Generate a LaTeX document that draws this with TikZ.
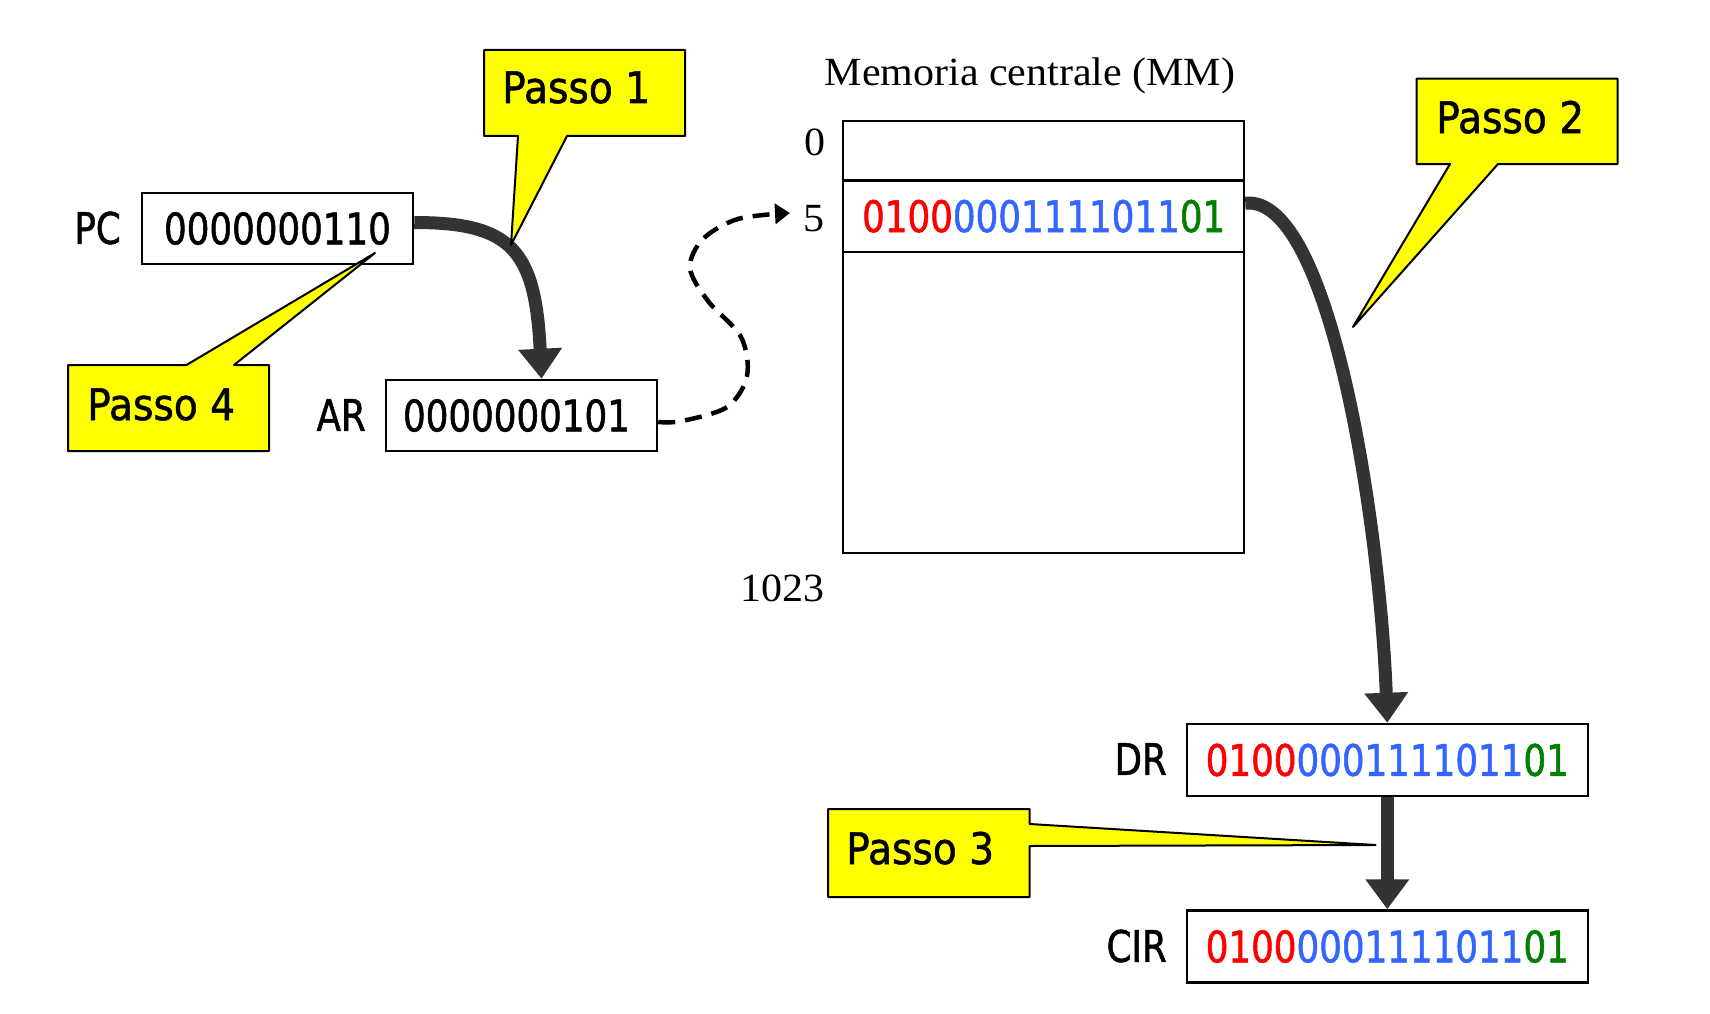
\documentclass[tikz,border=0pt]{standalone}
\usepackage{fontspec}
\usetikzlibrary{arrows.meta}
\newfontfamily\tahoma[FakeStretch=0.82,FakeBold=1.2]{DejaVu Sans}
\newfontfamily\tahomawide[FakeStretch=0.9,FakeBold=1.2]{DejaVu Sans}
\newfontfamily\timesf[FakeStretch=1.05]{Liberation Serif}
\definecolor{bitred}{RGB}{255,0,0}
\definecolor{bitblue}{RGB}{51,102,255}
\definecolor{bitgreen}{RGB}{0,128,0}
\definecolor{arrowgray}{RGB}{51,51,51}
\definecolor{calloutyellow}{RGB}{255,255,0}
\newcommand{\bitstring}{\textcolor{bitred}{0100}\textcolor{bitblue}{0001111011}\textcolor{bitgreen}{01}}
\newcommand{\sansbig}{\tahoma\fontsize{43.5}{50}\selectfont}
\newcommand{\sanscall}{\tahomawide\fontsize{43.5}{50}\selectfont}
\newcommand{\serifbig}{\timesf\fontsize{40}{46}\selectfont}
\begin{document}
\begin{tikzpicture}[x=1pt,y=-1pt,
  regbox/.style={draw, line width=2.5pt, inner sep=0pt, minimum width=271pt, minimum height=71pt, font=\sansbig},
  widebox/.style={regbox, minimum width=401pt, minimum height=72pt},
  cellbox/.style={draw, line width=2.2pt, inner sep=0pt, minimum width=401pt, font=\sansbig},
  reglabel/.style={inner sep=0pt, anchor=east, font=\sansbig},
  memlabel/.style={inner sep=0pt, anchor=base, font=\serifbig},
  calloutshape/.style={draw=black, fill=calloutyellow, line width=2pt, line join=round},
  callouttext/.style={inner sep=0pt, anchor=base west, font=\sanscall},
  thickarrow/.style={color=arrowgray, line width=13pt, -{Triangle[width=42pt,length=30pt]}},
  dasharrow/.style={color=black, line width=4.5pt, dash pattern=on 17pt off 10pt, -{Triangle[width=20pt,length=15pt]}}
]
\useasboundingbox (0,0) rectangle (1710,1014);
\fill[white] (0,0) rectangle (1710,1014);

% registers
\node[regbox] (PC) at (277.5,228.5) {0000000110};
\node[regbox] (AR) at (521.5,415.5) {\hspace*{-10pt}0000000101};
\node[widebox] (DR) at (1387.3,760) {\bitstring};
\node[widebox] (CIR) at (1387.3,946.5) {\bitstring};
\node[reglabel] (PClab) at (121,228) {PC};
\node[reglabel] (ARlab) at (366,415) {AR};
\node[reglabel] (DRlab) at (1167,759) {DR};
\node[reglabel] (CIRlab) at (1167,946) {CIR};

% memory
\node[memlabel] (title) at (1030,86) {Memoria centrale (MM)};
\node[cellbox, minimum height=59.4pt] (mem0) at (1043.7,150.7) {};
\node[cellbox, minimum height=71.6pt] (mem5) at (1043.7,216.2) {\bitstring};
\node[cellbox, minimum height=301pt] (memrest) at (1043.7,402.5) {};
\node[memlabel] (lab0) at (815,156) {0};
\node[memlabel] (lab5) at (814,231) {5};
\node[memlabel] (lab1023) at (782,601) {1023};
\coordinate (dtip) at (790,213);

% connectors
\draw[thickarrow] ([yshift=6pt]PC.east) .. controls +(97,0) and +(-6,-129) .. ([xshift=20pt]AR.north);
\draw[thickarrow] ([yshift=13pt]mem5.east) .. controls +(86,-9) and +(-7,-193) .. (DR.north);
\draw[thickarrow] (DR.south) -- (CIR.north);
\draw[dasharrow] plot[smooth, tension=0.55] coordinates {([yshift=-6.5pt]AR.east) (682,421) (727,407) (747,376) (741,337) (708,301) (690,268) (703,239) (738,219) (dtip)};

% callouts
\draw[calloutshape] (484,50) -- (685,50) -- (685,136) -- (567,136) -- (511,245) -- (518,136) -- (484,136) -- cycle;
\node[callouttext] (p1) at (502,103) {Passo 1};
\draw[calloutshape] (68,365) -- (186.5,365) -- (375,253) -- (234,365) -- (269,365) -- (269,451) -- (68,451) -- cycle;
\node[callouttext] (p4) at (87,420) {Passo 4};
\draw[calloutshape] (1416.6,78.6) -- (1617.5,78.6) -- (1617.5,164) -- (1498,164) -- (1353,327) -- (1450,164) -- (1416.6,164) -- cycle;
\node[callouttext] (p2) at (1436,133) {Passo 2};
\draw[calloutshape] (828,809) -- (1029.6,809) -- (1029.6,824) -- (1375.5,845) -- (1029.6,846) -- (1029.6,897) -- (828,897) -- cycle;
\node[callouttext] (p3) at (846,864) {Passo 3};
\end{tikzpicture}
\end{document}
